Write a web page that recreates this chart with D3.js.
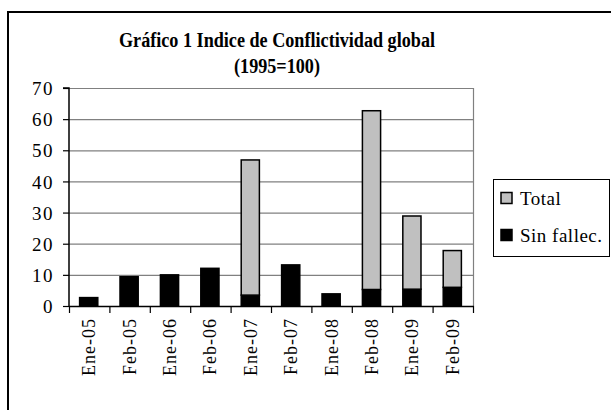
<!DOCTYPE html>
<html>
<head>
<meta charset="utf-8">
<script src="https://cdn.jsdelivr.net/npm/d3@7"></script>
<style>
  html, body { margin: 0; padding: 0; background: #fff; }
  svg { display: block; }
  svg text { font-family: "Liberation Serif", "Times New Roman", serif !important; fill: #000; }
</style>
</head>
<body>
<svg id="chart" width="611" height="410"></svg>
<script>
const categories = ["Ene-05", "Feb-05", "Ene-06", "Feb-06", "Ene-07", "Feb-07", "Ene-08", "Feb-08", "Ene-09", "Feb-09"];
const sinFallec = [2.7, 9.4, 10.0, 12.1, 3.5, 13.2, 3.9, 5.3, 5.4, 6.0];
const totalExtra = [0, 0, 0, 0, 43.4, 0, 0, 57.4, 23.5, 11.8];
const yTicks = [0, 10, 20, 30, 40, 50, 60, 70];
const seriesNames = ["Total", "Sin fallec."];
const titleLines = ["Gráfico 1 Indice de Conflictividad global", "(1995=100)"];

const SERIF = '"Liberation Serif", "Times New Roman", serif';
const svg = d3.select("#chart");
const plot = { left: 69, right: 473, top: 88, bottom: 306 };

// outer frame (extends beyond the visible area on the right and bottom)
svg.append("rect")
  .attr("x", 8).attr("y", 12).attr("width", 640).attr("height", 440)
  .attr("fill", "#fff").attr("stroke", "#000").attr("stroke-width", 2);

const x = d3.scaleBand().domain(categories).range([plot.left, plot.right]).paddingInner(0).paddingOuter(0);
const y = d3.scaleLinear().domain([0, 70]).range([plot.bottom, plot.top]);

// gridlines
svg.append("g").selectAll("line").data(yTicks.filter(d => d > 0)).join("line")
  .attr("x1", plot.left).attr("x2", plot.right)
  .attr("y1", d => y(d) + 0.5).attr("y2", d => y(d) + 0.5)
  .attr("stroke", "#808080").attr("stroke-width", 1.2);
// right border of plot area
svg.append("line")
  .attr("x1", plot.right + 0.5).attr("x2", plot.right + 0.5)
  .attr("y1", y(70)).attr("y2", y(0))
  .attr("stroke", "#808080").attr("stroke-width", 1.2);

// stacked bars
const rows = categories.map((c, i) => ({ cat: c, sin: sinFallec[i], extra: totalExtra[i] }));
const stack = d3.stack().keys(["sin", "extra"])(rows);
const colors = { sin: "#000000", extra: "#c0c0c0" };
const barW = x.bandwidth() * 0.45;
stack.forEach(layer => {
  svg.append("g").selectAll("rect").data(layer.filter(d => d[1] - d[0] > 0)).join("rect")
    .attr("x", d => x(d.data.cat) + (x.bandwidth() - barW) / 2 - 0.5)
    .attr("width", barW)
    .attr("y", d => y(d[1]))
    .attr("height", d => y(d[0]) - y(d[1]))
    .attr("fill", colors[layer.key])
    .attr("stroke", "#000").attr("stroke-width", 1.5);
});

// y axis
const yAxis = d3.axisLeft(y).tickValues(yTicks).tickSize(6).tickPadding(9).tickFormat(d3.format("d"));
const gy = svg.append("g").attr("transform", `translate(${plot.left},0)`).call(yAxis)
  .attr("font-family", null).attr("font-size", null);
gy.select(".domain").attr("stroke", "#000").attr("stroke-width", 1.5).attr("d", `M-6,${y(70)}H0V${y(0)}`);
gy.selectAll(".tick line").attr("stroke", "#000").attr("stroke-width", 1.2);
gy.selectAll("text").style("font-family", SERIF).style("font-size", "19px")
  .attr("letter-spacing", 1.5).attr("dy", "0.35em");

// x axis
const gx = svg.append("g").attr("transform", `translate(0,${plot.bottom})`);
gx.append("line").attr("x1", plot.left).attr("x2", plot.right + 1).attr("y1", 0.5).attr("y2", 0.5)
  .attr("stroke", "#000").attr("stroke-width", 1.5);
const boundaries = categories.map(c => x(c)).concat([plot.right]);
gx.selectAll("line.tk").data(boundaries).join("line").attr("class", "tk")
  .attr("x1", d => d + 0.5).attr("x2", d => d + 0.5).attr("y1", 0).attr("y2", 7)
  .attr("stroke", "#000").attr("stroke-width", 1.2);
gx.selectAll("text").data(categories).join("text")
  .attr("transform", d => `translate(${x(d) + x.bandwidth() / 2 + 6},12) rotate(-90)`)
  .attr("text-anchor", "end")
  .style("font-family", SERIF).style("font-size", "18px")
  .attr("letter-spacing", 1)
  .text(d => d);

// title
const titleWidths = [316, 86];
svg.append("g").selectAll("text").data(titleLines).join("text")
  .attr("x", (d, i) => 277 - titleWidths[i] / 2).attr("y", (d, i) => 47 + i * 26)
  .attr("textLength", (d, i) => titleWidths[i]).attr("lengthAdjust", "spacingAndGlyphs")
  .style("font-family", SERIF).style("font-size", "20px").style("font-weight", "bold")
  .text(d => d);

// legend
const lg = svg.append("g");
lg.append("rect").attr("x", 493.5).attr("y", 179.5).attr("width", 116).attr("height", 77)
  .attr("fill", "#fff").attr("stroke", "#000").attr("stroke-width", 1);
const legendColors = ["#c0c0c0", "#000000"];
seriesNames.forEach((name, i) => {
  const cy = 198 + i * 37;
  lg.append("rect").attr("x", 501).attr("y", cy - 5.5).attr("width", 11).attr("height", 11)
    .attr("fill", legendColors[i]).attr("stroke", "#000").attr("stroke-width", 1.5);
  lg.append("text").attr("x", 520).attr("y", cy + 7)
    .style("font-family", SERIF).style("font-size", "19px").attr("letter-spacing", 0.5).text(name);
});
</script>
</body>
</html>
